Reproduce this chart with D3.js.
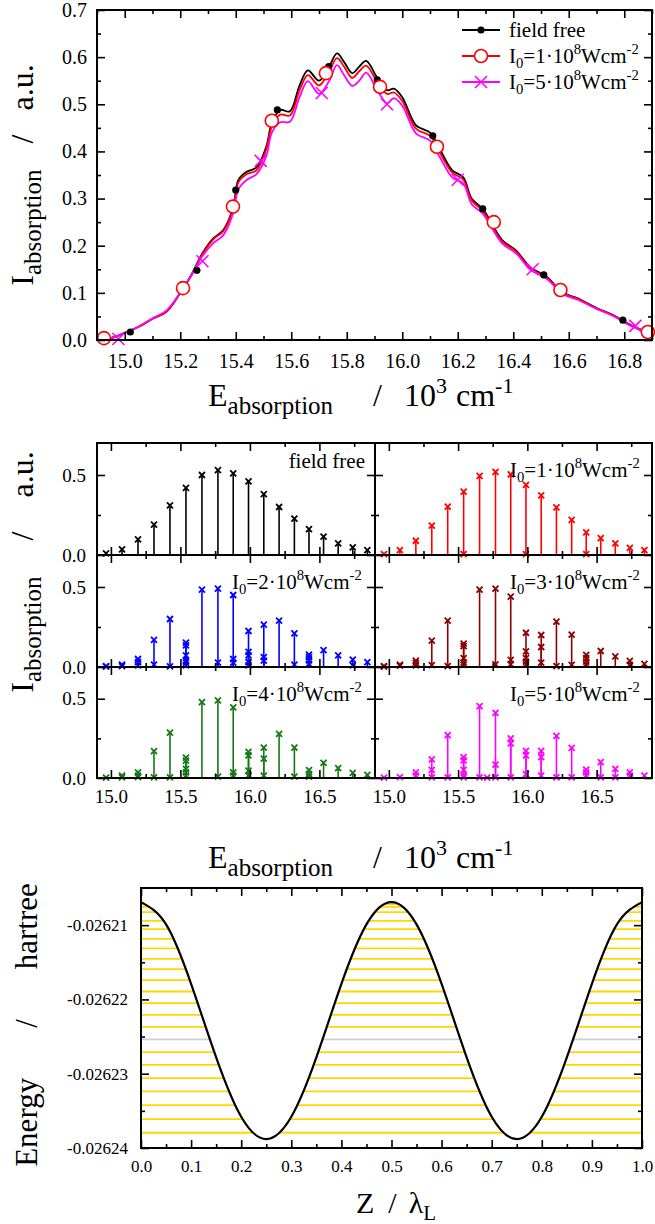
<!DOCTYPE html>
<html>
<head>
<meta charset="utf-8">
<script src="https://cdn.jsdelivr.net/npm/d3@7"></script>
<style>
body { margin: 0; background: #fff; }
svg { display: block; }
svg text, svg tspan { font-family: "Liberation Serif", "Times New Roman", serif !important; fill: #000; }
</style>
</head>
<body>
<script>
var width = 655,
    height = 1224,
    serif = "Liberation Serif";

// ---- top panel: broadened absorption spectra ----
var specE = [14.9, 14.95, 15.0, 15.05, 15.1, 15.15, 15.2, 15.24, 15.28, 15.32, 15.355, 15.39, 15.41,
             15.44, 15.475, 15.51, 15.53, 15.56, 15.595, 15.63, 15.66, 15.70, 15.735, 15.765, 15.79,
             15.82, 15.845, 15.87, 15.91, 15.945, 15.97, 16.0, 16.05, 16.1, 16.135, 16.18, 16.22,
             16.25, 16.29, 16.36, 16.41, 16.46, 16.52, 16.58, 16.63, 16.70, 16.76, 16.82, 16.9];
var specFree = [0.0, 0.004, 0.015, 0.028, 0.045, 0.06, 0.1, 0.138, 0.184, 0.216, 0.233, 0.28, 0.34,
                0.357, 0.366, 0.41, 0.46, 0.488, 0.485, 0.54, 0.572, 0.55, 0.578, 0.608, 0.59,
                0.566, 0.58, 0.592, 0.556, 0.53, 0.533, 0.515, 0.455, 0.44, 0.405, 0.36, 0.345,
                0.3, 0.278, 0.212, 0.19, 0.155, 0.134, 0.1, 0.089, 0.068, 0.053, 0.033, 0.012];
var spec1 = [0.0, 0.004, 0.015, 0.028, 0.045, 0.06, 0.1, 0.137, 0.182, 0.214, 0.231, 0.277, 0.335,
             0.352, 0.36, 0.405, 0.453, 0.478, 0.476, 0.53, 0.562, 0.54, 0.568, 0.598, 0.58,
             0.556, 0.57, 0.582, 0.547, 0.522, 0.525, 0.507, 0.448, 0.433, 0.398, 0.355, 0.34,
             0.296, 0.274, 0.209, 0.188, 0.153, 0.132, 0.099, 0.088, 0.067, 0.052, 0.032, 0.012];
var spec5 = [0.0, 0.004, 0.015, 0.028, 0.046, 0.062, 0.1, 0.137, 0.178, 0.206, 0.222, 0.268, 0.32,
             0.34, 0.352, 0.39, 0.44, 0.462, 0.463, 0.515, 0.549, 0.522, 0.548, 0.583, 0.562,
             0.539, 0.55, 0.567, 0.53, 0.502, 0.513, 0.497, 0.438, 0.423, 0.388, 0.345, 0.332,
             0.288, 0.268, 0.205, 0.184, 0.15, 0.13, 0.097, 0.086, 0.066, 0.051, 0.031, 0.011];
var dotE = [15.02, 15.26, 15.40, 15.55, 15.735, 15.91, 16.11, 16.29, 16.51, 16.795],
    dotV = [0.017, 0.148, 0.318, 0.488, 0.58, 0.552, 0.433, 0.278, 0.138, 0.042];
var circE = [14.925, 15.21, 15.39, 15.53, 15.725, 15.92, 16.125, 16.33, 16.57, 16.885],
    circV = [0.004, 0.11, 0.283, 0.465, 0.566, 0.537, 0.41, 0.25, 0.106, 0.017];
var crossE = [14.977, 15.28, 15.49, 15.71, 15.945, 16.2, 16.47, 16.84],
    crossV = [0.002, 0.167, 0.38, 0.524, 0.5, 0.34, 0.15, 0.03];
var topXMajor = [15.0, 15.2, 15.4, 15.6, 15.8, 16.0, 16.2, 16.4, 16.6, 16.8],
    topXMinor = [14.9, 15.1, 15.3, 15.5, 15.7, 15.9, 16.1, 16.3, 16.5, 16.7, 16.9],
    topYMajor = [0.0, 0.1, 0.2, 0.3, 0.4, 0.5, 0.6, 0.7],
    topYMinor = [0.05, 0.15, 0.25, 0.35, 0.45, 0.55, 0.65];
var legendNames = ["field free", "1", "5"];

// ---- middle panels: stick spectra ----
var lineE = [14.965, 15.08, 15.195, 15.31, 15.425, 15.54, 15.655, 15.77, 15.88, 15.99,
             16.1, 16.21, 16.32, 16.425, 16.53, 16.635, 16.74, 16.845];
var sticksFree = [[0.01], [0.035], [0.098], [0.19], [0.31], [0.42], [0.5], [0.53], [0.51],
                  [0.46], [0.38], [0.3], [0.227], [0.162], [0.115], [0.073], [0.048], [0.03]];
var sticks1 = [[0.006], [0.031], [0.089], [0.183], [0.303], [0.396, 0.005], [0.494], [0.519],
               [0.504], [0.438, 0.005], [0.373], [0.297], [0.22], [0.141, 0.005], [0.106],
               [0.073], [0.044], [0.031]];
var sticks2 = [[0.005, 0.002], [0.015, 0.005], [0.05, 0.03, 0.01], [0.17, 0.015], [0.3, 0.004],
               [0.152, 0.135, 0.073, 0.04, 0.027, 0.01], [0.483], [0.49, 0.027], [0.45, 0.05, 0.027],
               [0.225, 0.094, 0.073, 0.03, 0.01], [0.265, 0.062, 0.04], [0.29], [0.21, 0.015],
               [0.077, 0.062, 0.042, 0.02], [0.105], [0.073], [0.046, 0.01], [0.03]];
var sticks3 = [[0.005, 0.002], [0.015, 0.008], [0.04, 0.025, 0.01], [0.165, 0.012], [0.29, 0.006],
               [0.146, 0.13, 0.055, 0.028, 0.013], [0.483], [0.49, 0.017], [0.44, 0.045, 0.017],
               [0.214, 0.097, 0.055, 0.034, 0.017], [0.2, 0.125, 0.028], [0.284, 0.006], [0.203, 0.013],
               [0.076, 0.055, 0.034, 0.017], [0.1], [0.066], [0.038, 0.013], [0.02]];
var sticks4 = [[0.003], [0.015, 0.004], [0.036, 0.015, 0.005], [0.17, 0.004], [0.286, 0.004],
               [0.128, 0.11, 0.058, 0.036, 0.015], [0.478], [0.49, 0.008], [0.446, 0.036, 0.015],
               [0.165, 0.143, 0.047, 0.015], [0.192, 0.122, 0.015], [0.278], [0.192, 0.008],
               [0.05, 0.025, 0.008], [0.096], [0.062], [0.032], [0.02]];
var sticks5 = [[0.003], [0.006], [0.036, 0.015], [0.118, 0.051, 0.004], [0.27, 0.004],
               [0.132, 0.111, 0.051, 0.015, 0.004], [0.453, 0.004], [0.41, 0.085, 0.004],
               [0.25, 0.218, 0.004], [0.171, 0.143, 0.025], [0.171, 0.132, 0.015], [0.265, 0.004],
               [0.19, 0.004], [0.053, 0.036, 0.015], [0.1, 0.004], [0.058, 0.004], [0.036, 0.015], [0.015]];
var extra5E = [15.71], extra5V = [0.003];
var panelNames = ["field free", "1", "2", "3", "4", "5"],
    panelColors = ["#000000", "#ff0000", "#0000ff", "#8b0000", "#137a13", "#ff00ff"];
var midXMajor = [15.0, 15.5, 16.0, 16.5],
    midXMinor = [15.25, 15.75, 16.25, 16.75],
    midYMajor = [0.0, 0.5],
    midYMinor = [0.25];

// ---- bottom panel: optical lattice potential and levels ----
var zPos = [0, 0.05, 0.1, 0.15, 0.2, 0.25, 0.3, 0.35, 0.4, 0.45, 0.5,
            0.55, 0.6, 0.65, 0.7, 0.75, 0.8, 0.85, 0.9, 0.95, 1.0];
var potE = [-0.0262069, -0.0262099, -0.0262179, -0.0262278, -0.0262358, -0.0262388,
            -0.0262358, -0.0262278, -0.0262179, -0.0262099, -0.0262069,
            -0.0262099, -0.0262179, -0.0262278, -0.0262358, -0.0262388,
            -0.0262358, -0.0262278, -0.0262179, -0.0262099, -0.0262069];
var levels = [-0.02620717, -0.02620754, -0.02620825, -0.02620942, -0.02621054, -0.02621184,
              -0.02621314, -0.02621453, -0.02621592, -0.0262174, -0.02621893, -0.0262205,
              -0.02622207, -0.02622369, -0.02622538, -0.02622709, -0.0262288, -0.02623059,
              -0.02623238, -0.02623423, -0.0262361, -0.02623795];
var grayLevel = -0.02622538;
var botXMajor = [0, 0.1, 0.2, 0.3, 0.4, 0.5, 0.6, 0.7, 0.8, 0.9, 1.0],
    botXMinor = [0.05, 0.15, 0.25, 0.35, 0.45, 0.55, 0.65, 0.75, 0.85, 0.95],
    botYMajor = [-0.02624, -0.02623, -0.02622, -0.02621],
    botYMinor = [-0.026235, -0.026225, -0.026215];

var svg = d3.select("body").append("svg")
    .attr("width", width)
    .attr("height", height)
    .attr("font-family", serif);

function cross(s) {
    return "M" + (-s) + "," + (-s) + "L" + s + "," + s + "M" + (-s) + "," + s + "L" + s + "," + (-s);
}

// frame with inward ticks on all four sides
function box(g, x, y, o) {
    var left = x.range()[0], right = x.range()[1],
        bottom = y.range()[0], top = y.range()[1];
    function put(axis, tr, vals, len, fmt, pad) {
        var a = g.append("g").attr("transform", tr)
            .call(axis.tickValues(vals).tickSizeInner(-len).tickSizeOuter(0)
                .tickPadding(pad || 0).tickFormat(fmt || function() { return ""; }));
        a.select(".domain").remove();
        a.attr("font-family", serif).attr("font-size", o.fs);
        a.selectAll("line").attr("stroke", "#000").attr("stroke-width", 1.6);
        a.selectAll("text").attr("font-size", o.fs).attr("font-family", serif).attr("fill", "#000");
    }
    put(d3.axisBottom(x), "translate(0," + bottom + ")", o.xMinor, 4);
    put(d3.axisBottom(x), "translate(0," + bottom + ")", o.xMajor, 8, o.xFmt, o.xPad);
    put(d3.axisTop(x), "translate(0," + top + ")", o.xMinor, 4);
    put(d3.axisTop(x), "translate(0," + top + ")", o.xMajor, 8);
    put(d3.axisLeft(y), "translate(" + left + ",0)", o.yMinor, 4);
    put(d3.axisLeft(y), "translate(" + left + ",0)", o.yMajor, 8, o.yFmt, o.yPad);
    put(d3.axisRight(y), "translate(" + right + ",0)", o.yMinor, 4);
    put(d3.axisRight(y), "translate(" + right + ",0)", o.yMajor, 8);
    g.append("rect")
        .attr("x", left).attr("y", top)
        .attr("width", right - left).attr("height", bottom - top)
        .attr("fill", "none").attr("stroke", "#000").attr("stroke-width", 2);
}

// I0=n·10^8Wcm^-2
function intensityLabel(g, x, y, n, fs, anchor) {
    var t = g.append("text").attr("x", x).attr("y", y).attr("font-size", fs)
        .attr("text-anchor", anchor || "start");
    if (n === "field free") { t.text(n); return; }
    t.append("tspan").text("I");
    t.append("tspan").attr("font-size", fs * 0.7).attr("dy", fs * 0.25).text("0");
    t.append("tspan").attr("dy", -fs * 0.25).text("=" + n + "\u00b710");
    t.append("tspan").attr("font-size", fs * 0.7).attr("dy", -fs * 0.42).text("8");
    t.append("tspan").attr("dy", fs * 0.42).text("Wcm");
    t.append("tspan").attr("font-size", fs * 0.7).attr("dy", -fs * 0.42).text("-2");
}

function energyTitle(x0, y0) {
    var t = svg.append("text").attr("x", x0).attr("y", y0).attr("font-size", 32);
    t.append("tspan").text("E");
    t.append("tspan").attr("font-size", 25).attr("dy", 8).text("absorption");
    t.append("tspan").attr("dy", -8).attr("dx", 40).text("/");
    t.append("tspan").attr("dx", 22).text("10");
    t.append("tspan").attr("font-size", 22).attr("dy", -13).text("3");
    t.append("tspan").attr("dy", 13).attr("dx", 9).text("cm");
    t.append("tspan").attr("font-size", 22).attr("dy", -13).text("-1");
}

function intensityTitle(cx, cy, gap) {
    var t = svg.append("text")
        .attr("transform", "translate(" + cx + "," + cy + ") rotate(-90)")
        .attr("text-anchor", "middle").attr("font-size", 32);
    t.append("tspan").text("I");
    t.append("tspan").attr("font-size", 25).attr("dy", 8).text("absorption");
    t.append("tspan").attr("dy", -8).attr("dx", gap).text("/");
    t.append("tspan").attr("dx", gap - 2).text("a.u.");
}

// ================= top panel =================
var xT = d3.scaleLinear().domain([14.9, 16.9]).range([97, 652]),
    yT = d3.scaleLinear().domain([0, 0.7]).range([340, 10]);
var gT = svg.append("g");

var specLine = d3.line()
    .x(d => xT(d[0]))
    .y(d => yT(d[1]))
    .curve(d3.curveCatmullRom.alpha(0.5));

[[specFree, "#000000"], [spec1, "#ff0000"], [spec5, "#ff00ff"]].forEach(function(s) {
    gT.append("path")
        .attr("d", specLine(d3.zip(specE, s[0])))
        .attr("fill", "none")
        .attr("stroke", s[1])
        .attr("stroke-width", 1.8);
});

gT.selectAll("circle.dot").data(d3.zip(dotE, dotV)).join("circle")
    .attr("cx", d => xT(d[0])).attr("cy", d => yT(d[1]))
    .attr("r", 3.6).attr("fill", "#000");
gT.selectAll("circle.ring").data(d3.zip(circE, circV)).join("circle")
    .attr("cx", d => xT(d[0])).attr("cy", d => yT(d[1]))
    .attr("r", 6.5).attr("fill", "#fff").attr("stroke", "#ff0000").attr("stroke-width", 1.6);
gT.selectAll("path.cross").data(d3.zip(crossE, crossV)).join("path")
    .attr("d", cross(6))
    .attr("transform", d => "translate(" + xT(d[0]) + "," + yT(d[1]) + ")")
    .attr("stroke", "#ff00ff").attr("stroke-width", 1.6).attr("fill", "none");

box(gT, xT, yT, {
    fs: 20,
    xMajor: topXMajor, xMinor: topXMinor, xFmt: d3.format(".1f"), xPad: 14,
    yMajor: topYMajor, yMinor: topYMinor, yFmt: d3.format(".1f"), yPad: 10
});

// legend
var legColors = ["#000000", "#ff0000", "#ff00ff"];
legendNames.forEach(function(name, i) {
    var ly = 30 + i * 26;
    gT.append("line").attr("x1", 462).attr("x2", 500).attr("y1", ly).attr("y2", ly)
        .attr("stroke", legColors[i]).attr("stroke-width", 1.8);
    if (i === 0) gT.append("circle").attr("cx", 481).attr("cy", ly).attr("r", 3.6).attr("fill", "#000");
    if (i === 1) gT.append("circle").attr("cx", 481).attr("cy", ly).attr("r", 6.5)
        .attr("fill", "#fff").attr("stroke", "#ff0000").attr("stroke-width", 1.6);
    if (i === 2) gT.append("path").attr("d", cross(6)).attr("transform", "translate(481," + ly + ")")
        .attr("stroke", "#ff00ff").attr("stroke-width", 1.6);
    intensityLabel(gT, 509, ly + 7, name, 21);
});

intensityTitle(33, 175, 26);
energyTitle(208, 406);

// ================= middle panels =================
var cols = [[97, 375], [375, 652]],
    rows = [[443, 555], [555, 667], [667, 778]],
    allSticks = [sticksFree, sticks1, sticks2, sticks3, sticks4, sticks5];

allSticks.forEach(function(lists, p) {
    var c = p % 2, r = Math.floor(p / 2),
        color = panelColors[p];
    var x = d3.scaleLinear().domain([14.9, 16.9]).range(cols[c]),
        y = d3.scaleLinear().domain([0, 0.7]).range([rows[r][1], rows[r][0]]);
    var g = svg.append("g");

    var pts = [];
    lists.forEach(function(vals, i) {
        vals.forEach(v => pts.push([lineE[i], v]));
    });
    if (p === 5) extra5E.forEach((e, i) => pts.push([e, extra5V[i]]));

    g.selectAll("line.stick").data(pts).join("line")
        .attr("x1", d => x(d[0])).attr("x2", d => x(d[0]))
        .attr("y1", y(0)).attr("y2", d => y(d[1]))
        .attr("stroke", color).attr("stroke-width", 1.6);
    g.selectAll("path.mark").data(pts).join("path")
        .attr("d", cross(3))
        .attr("transform", d => "translate(" + x(d[0]) + "," + y(d[1]) + ")")
        .attr("stroke", color).attr("stroke-width", 1.8).attr("fill", "none");

    box(g, x, y, {
        fs: 19,
        xMajor: midXMajor, xMinor: midXMinor,
        xFmt: r === 2 ? d3.format(".1f") : null, xPad: 12,
        yMajor: midYMajor, yMinor: midYMinor,
        yFmt: c === 0 ? d3.format(".1f") : null, yPad: 11
    });

    if (p === 0) intensityLabel(g, 365, rows[r][0] + 25, panelNames[p], 21, "end");
    else intensityLabel(g, cols[c][0] + 135, rows[r][0] + 34, panelNames[p], 21);
});

intensityTitle(33, 572, 36);
energyTitle(208, 868);

// ================= bottom panel =================
var xB = d3.scaleLinear().domain([0, 1]).range([141, 642]),
    yB = d3.scaleLinear().domain([-0.02624, -0.026205]).range([1148, 888]);
var gB = svg.append("g");

gB.selectAll("line.level").data(levels).join("line")
    .attr("x1", xB(0)).attr("x2", xB(1))
    .attr("y1", d => yB(d)).attr("y2", d => yB(d))
    .attr("stroke", d => d === grayLevel ? "#cfcfcf" : "#ffd700")
    .attr("stroke-width", 1.8);

// white cover above the potential hides the level lines outside the wells
var potPts = d3.zip(zPos, potE);
gB.append("path")
    .attr("d", d3.area().x(d => xB(d[0])).y0(yB.range()[1]).y1(d => yB(d[1]))
        .curve(d3.curveNatural)(potPts))
    .attr("fill", "#fff");
gB.append("path")
    .attr("d", d3.line().x(d => xB(d[0])).y(d => yB(d[1])).curve(d3.curveNatural)(potPts))
    .attr("fill", "none").attr("stroke", "#000").attr("stroke-width", 2.2);

box(gB, xB, yB, {
    fs: 17,
    xMajor: botXMajor, xMinor: botXMinor, xFmt: d3.format(".1f"), xPad: 12,
    yMajor: botYMajor, yMinor: botYMinor, yFmt: d => d.toFixed(5), yPad: 13
});

var tE = svg.append("text")
    .attr("transform", "translate(37,1025) rotate(-90)")
    .attr("text-anchor", "middle").attr("font-size", 31);
tE.append("tspan").text("Energy");
tE.append("tspan").attr("dx", 50).text("/");
tE.append("tspan").attr("dx", 50).text("hartree");

var tZ = svg.append("text").attr("x", 396).attr("y", 1213)
    .attr("text-anchor", "middle").attr("font-size", 30);
tZ.append("tspan").text("Z");
tZ.append("tspan").attr("dx", 14).text("/");
tZ.append("tspan").attr("dx", 12).text("\u03bb");
tZ.append("tspan").attr("font-size", 21).attr("dy", 7).text("L");
</script>
</body>
</html>
